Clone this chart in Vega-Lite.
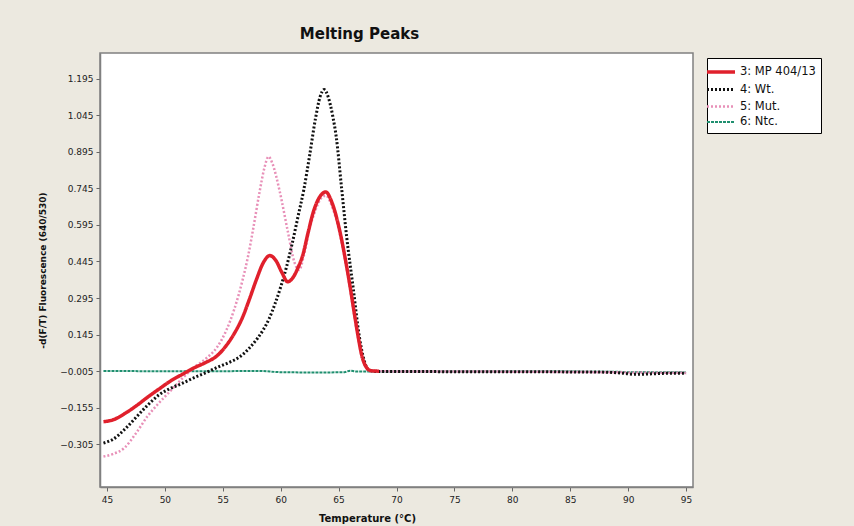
{
  "$schema": "https://vega.github.io/schema/vega-lite/v6.json",
  "width": 593,
  "height": 434,
  "autosize": {"type": "none"},
  "padding": {"left": 100, "top": 53, "right": 161, "bottom": 39},
  "background": "#ece9e0",
  "title": {"text": "Melting Peaks", "font": "DejaVu Sans", "fontSize": 15, "fontWeight": "bold", "color": "#111", "anchor": "middle", "dx": -37, "offset": -1, "baseline": "alphabetic"},
  "config": {
    "view": {"fill": "white", "stroke": "#808080", "strokeWidth": 1.5},
    "font": "DejaVu Sans"
  },
  "data": {"values": [
    {"series": "6: Ntc.", "t": 44.7, "v": -0.004},
    {"series": "6: Ntc.", "t": 50, "v": -0.005},
    {"series": "6: Ntc.", "t": 55, "v": -0.005},
    {"series": "6: Ntc.", "t": 58, "v": -0.004},
    {"series": "6: Ntc.", "t": 60, "v": -0.009},
    {"series": "6: Ntc.", "t": 62, "v": -0.010},
    {"series": "6: Ntc.", "t": 64, "v": -0.010},
    {"series": "6: Ntc.", "t": 65.5, "v": -0.009},
    {"series": "6: Ntc.", "t": 66, "v": -0.003},
    {"series": "6: Ntc.", "t": 66.5, "v": -0.006},
    {"series": "6: Ntc.", "t": 70, "v": -0.006},
    {"series": "6: Ntc.", "t": 80, "v": -0.006},
    {"series": "6: Ntc.", "t": 90, "v": -0.008},
    {"series": "6: Ntc.", "t": 95, "v": -0.010},

    {"series": "5: Mut.", "t": 44.7, "v": -0.355},
    {"series": "5: Mut.", "t": 45.5, "v": -0.345},
    {"series": "5: Mut.", "t": 46.5, "v": -0.32},
    {"series": "5: Mut.", "t": 47.5, "v": -0.26},
    {"series": "5: Mut.", "t": 48.5, "v": -0.19},
    {"series": "5: Mut.", "t": 49.5, "v": -0.135},
    {"series": "5: Mut.", "t": 50.5, "v": -0.085},
    {"series": "5: Mut.", "t": 51.5, "v": -0.035},
    {"series": "5: Mut.", "t": 52.5, "v": 0.01},
    {"series": "5: Mut.", "t": 53.5, "v": 0.045},
    {"series": "5: Mut.", "t": 54.5, "v": 0.093},
    {"series": "5: Mut.", "t": 55.3, "v": 0.162},
    {"series": "5: Mut.", "t": 56.0, "v": 0.25},
    {"series": "5: Mut.", "t": 56.7, "v": 0.367},
    {"series": "5: Mut.", "t": 57.2, "v": 0.47},
    {"series": "5: Mut.", "t": 57.6, "v": 0.572},
    {"series": "5: Mut.", "t": 58.2, "v": 0.736},
    {"series": "5: Mut.", "t": 58.6, "v": 0.83},
    {"series": "5: Mut.", "t": 58.95, "v": 0.875},
    {"series": "5: Mut.", "t": 59.3, "v": 0.845},
    {"series": "5: Mut.", "t": 59.9, "v": 0.736},
    {"series": "5: Mut.", "t": 60.6, "v": 0.572},
    {"series": "5: Mut.", "t": 61.2, "v": 0.44},
    {"series": "5: Mut.", "t": 61.6, "v": 0.41},
    {"series": "5: Mut.", "t": 62.0, "v": 0.47},
    {"series": "5: Mut.", "t": 62.5, "v": 0.58},
    {"series": "5: Mut.", "t": 63.0, "v": 0.655},
    {"series": "5: Mut.", "t": 63.5, "v": 0.705},
    {"series": "5: Mut.", "t": 63.9, "v": 0.715},
    {"series": "5: Mut.", "t": 64.4, "v": 0.675},
    {"series": "5: Mut.", "t": 65.1, "v": 0.56},
    {"series": "5: Mut.", "t": 65.6, "v": 0.44},
    {"series": "5: Mut.", "t": 66.0, "v": 0.33},
    {"series": "5: Mut.", "t": 66.4, "v": 0.21},
    {"series": "5: Mut.", "t": 66.7, "v": 0.125},
    {"series": "5: Mut.", "t": 67.0, "v": 0.055},
    {"series": "5: Mut.", "t": 67.4, "v": 0.008},
    {"series": "5: Mut.", "t": 67.8, "v": -0.004},
    {"series": "5: Mut.", "t": 70, "v": -0.006},
    {"series": "5: Mut.", "t": 80, "v": -0.007},
    {"series": "5: Mut.", "t": 90, "v": -0.010},
    {"series": "5: Mut.", "t": 95, "v": -0.012},

    {"series": "4: Wt.", "t": 44.7, "v": -0.30},
    {"series": "4: Wt.", "t": 45.5, "v": -0.285},
    {"series": "4: Wt.", "t": 46.5, "v": -0.245},
    {"series": "4: Wt.", "t": 47.5, "v": -0.195},
    {"series": "4: Wt.", "t": 48.5, "v": -0.145},
    {"series": "4: Wt.", "t": 49.5, "v": -0.102},
    {"series": "4: Wt.", "t": 50.5, "v": -0.075},
    {"series": "4: Wt.", "t": 51.5, "v": -0.055},
    {"series": "4: Wt.", "t": 52.5, "v": -0.032},
    {"series": "4: Wt.", "t": 53.5, "v": -0.012},
    {"series": "4: Wt.", "t": 54.5, "v": 0.010},
    {"series": "4: Wt.", "t": 55.5, "v": 0.030},
    {"series": "4: Wt.", "t": 56.5, "v": 0.055},
    {"series": "4: Wt.", "t": 57.3, "v": 0.09},
    {"series": "4: Wt.", "t": 58.0, "v": 0.13},
    {"series": "4: Wt.", "t": 58.5, "v": 0.165},
    {"series": "4: Wt.", "t": 59.0, "v": 0.21},
    {"series": "4: Wt.", "t": 59.5, "v": 0.27},
    {"series": "4: Wt.", "t": 60.0, "v": 0.34},
    {"series": "4: Wt.", "t": 60.5, "v": 0.422},
    {"series": "4: Wt.", "t": 61.0, "v": 0.52},
    {"series": "4: Wt.", "t": 61.5, "v": 0.63},
    {"series": "4: Wt.", "t": 62.0, "v": 0.74},
    {"series": "4: Wt.", "t": 62.5, "v": 0.88},
    {"series": "4: Wt.", "t": 63.0, "v": 1.03},
    {"series": "4: Wt.", "t": 63.4, "v": 1.12},
    {"series": "4: Wt.", "t": 63.75, "v": 1.15},
    {"series": "4: Wt.", "t": 64.1, "v": 1.12},
    {"series": "4: Wt.", "t": 64.5, "v": 1.04},
    {"series": "4: Wt.", "t": 64.8, "v": 0.955},
    {"series": "4: Wt.", "t": 65.25, "v": 0.75},
    {"series": "4: Wt.", "t": 65.7, "v": 0.545},
    {"series": "4: Wt.", "t": 66.25, "v": 0.34},
    {"series": "4: Wt.", "t": 66.8, "v": 0.134},
    {"series": "4: Wt.", "t": 67.2, "v": 0.04},
    {"series": "4: Wt.", "t": 67.6, "v": 0.0},
    {"series": "4: Wt.", "t": 68.2, "v": -0.006},
    {"series": "4: Wt.", "t": 70, "v": -0.006},
    {"series": "4: Wt.", "t": 75, "v": -0.007},
    {"series": "4: Wt.", "t": 80, "v": -0.007},
    {"series": "4: Wt.", "t": 85, "v": -0.008},
    {"series": "4: Wt.", "t": 88, "v": -0.009},
    {"series": "4: Wt.", "t": 89.5, "v": -0.013},
    {"series": "4: Wt.", "t": 90.5, "v": -0.018},
    {"series": "4: Wt.", "t": 92, "v": -0.016},
    {"series": "4: Wt.", "t": 93, "v": -0.014},
    {"series": "4: Wt.", "t": 95, "v": -0.013},

    {"series": "3: MP 404/13", "t": 44.7, "v": -0.212},
    {"series": "3: MP 404/13", "t": 45.5, "v": -0.205},
    {"series": "3: MP 404/13", "t": 46.5, "v": -0.18},
    {"series": "3: MP 404/13", "t": 47.5, "v": -0.148},
    {"series": "3: MP 404/13", "t": 48.5, "v": -0.112},
    {"series": "3: MP 404/13", "t": 49.5, "v": -0.078},
    {"series": "3: MP 404/13", "t": 50.5, "v": -0.045},
    {"series": "3: MP 404/13", "t": 51.5, "v": -0.018},
    {"series": "3: MP 404/13", "t": 52.5, "v": 0.008},
    {"series": "3: MP 404/13", "t": 53.5, "v": 0.030},
    {"series": "3: MP 404/13", "t": 54.5, "v": 0.058},
    {"series": "3: MP 404/13", "t": 55.3, "v": 0.10},
    {"series": "3: MP 404/13", "t": 56.0, "v": 0.15},
    {"series": "3: MP 404/13", "t": 56.7, "v": 0.215},
    {"series": "3: MP 404/13", "t": 57.3, "v": 0.29},
    {"series": "3: MP 404/13", "t": 57.9, "v": 0.37},
    {"series": "3: MP 404/13", "t": 58.5, "v": 0.44},
    {"series": "3: MP 404/13", "t": 59.05, "v": 0.469},
    {"series": "3: MP 404/13", "t": 59.6, "v": 0.448},
    {"series": "3: MP 404/13", "t": 60.1, "v": 0.40},
    {"series": "3: MP 404/13", "t": 60.6, "v": 0.362},
    {"series": "3: MP 404/13", "t": 61.0, "v": 0.375},
    {"series": "3: MP 404/13", "t": 61.5, "v": 0.42},
    {"series": "3: MP 404/13", "t": 61.9, "v": 0.47},
    {"series": "3: MP 404/13", "t": 62.4, "v": 0.57},
    {"series": "3: MP 404/13", "t": 62.8, "v": 0.645},
    {"series": "3: MP 404/13", "t": 63.4, "v": 0.712},
    {"series": "3: MP 404/13", "t": 63.9, "v": 0.73},
    {"series": "3: MP 404/13", "t": 64.4, "v": 0.69},
    {"series": "3: MP 404/13", "t": 65.1, "v": 0.571},
    {"series": "3: MP 404/13", "t": 65.6, "v": 0.45},
    {"series": "3: MP 404/13", "t": 66.0, "v": 0.34},
    {"series": "3: MP 404/13", "t": 66.4, "v": 0.22},
    {"series": "3: MP 404/13", "t": 66.7, "v": 0.134},
    {"series": "3: MP 404/13", "t": 67.0, "v": 0.06},
    {"series": "3: MP 404/13", "t": 67.4, "v": 0.011},
    {"series": "3: MP 404/13", "t": 67.8, "v": -0.003},
    {"series": "3: MP 404/13", "t": 68.5, "v": -0.005}
  ]},
  "mark": {"type": "line", "interpolate": "monotone", "clip": true},
  "encoding": {
    "x": {"field": "t", "type": "quantitative",
      "scale": {"domain": [44.4, 95.6], "nice": false, "zero": false},
      "axis": {"values": [45, 50, 55, 60, 65, 70, 75, 80, 85, 90, 95], "title": "Temperature (°C)", "grid": false,
        "labelFontSize": 9, "labelColor": "#222", "tickColor": "#666", "tickSize": 4, "labelPadding": 4,
        "domainColor": "#808080", "domainWidth": 1.5,
        "titleFontSize": 10, "titleFontWeight": "bold", "titleColor": "#111", "titlePadding": 9, "titleX": 267}},
    "y": {"field": "v", "type": "quantitative",
      "scale": {"domain": [-0.48, 1.30], "nice": false, "zero": false},
      "axis": {"values": [-0.305, -0.155, -0.005, 0.145, 0.295, 0.445, 0.595, 0.745, 0.895, 1.045, 1.195], "format": ".3f",
        "title": "-d(F/T) Fluorescence (640/530)", "grid": false,
        "labelFontSize": 9, "labelColor": "#222", "tickColor": "#666", "tickSize": 4, "labelPadding": 3,
        "domainColor": "#808080", "domainWidth": 1.5,
        "titleFontSize": 9, "titleFontWeight": "bold", "titleColor": "#111", "titlePadding": 12}},
    "color": {"field": "series", "type": "nominal",
      "scale": {"domain": ["3: MP 404/13", "4: Wt.", "5: Mut.", "6: Ntc."], "range": ["#e0202c", "#111111", "#e890b8", "#1f8f6f"]},
      "legend": {"title": null, "orient": "none", "legendX": 607, "legendY": 5,
        "strokeColor": "#000", "fillColor": "#ffffff", "padding": 5,
        "symbolType": "M-2,0H2", "symbolSize": 196, "rowPadding": 2,
        "labelFontSize": 11.5, "labelColor": "#111", "labelOffset": 10}},
    "strokeDash": {"field": "series", "type": "nominal",
      "scale": {"domain": ["3: MP 404/13", "4: Wt.", "5: Mut.", "6: Ntc."], "range": [[1, 0], [2, 2], [2, 2], [3, 1]]},
      "legend": {"title": null}},
    "strokeWidth": {"field": "series", "type": "nominal",
      "scale": {"domain": ["3: MP 404/13", "4: Wt.", "5: Mut.", "6: Ntc."], "range": [3.5, 2, 1.5, 1.5]},
      "legend": {"title": null}}
  }
}
